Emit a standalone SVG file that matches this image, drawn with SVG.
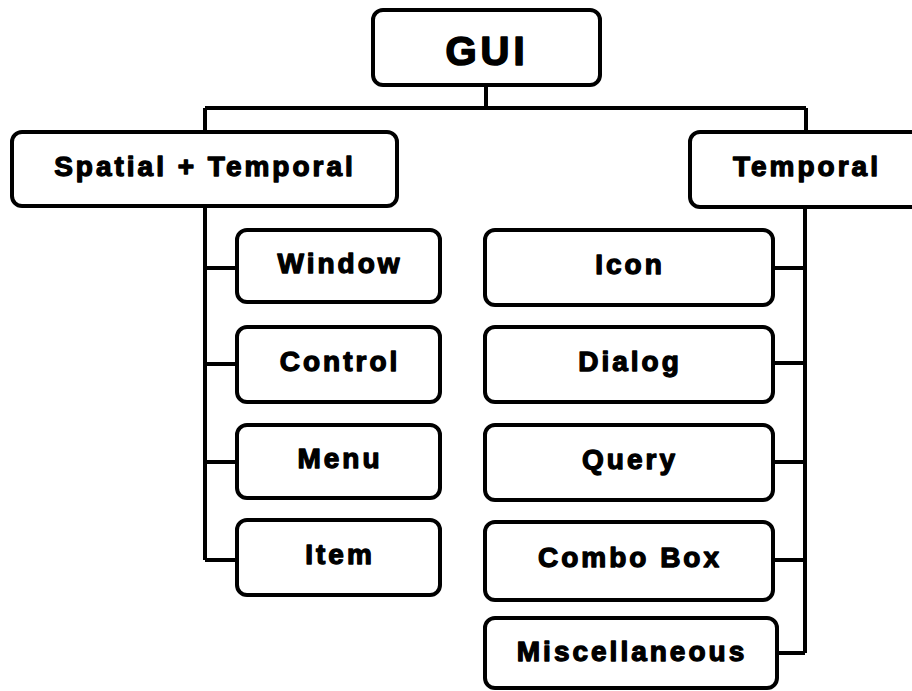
<svg xmlns="http://www.w3.org/2000/svg" width="912" height="691" viewBox="0 0 912 691">
<style>
.box{fill:#fff;stroke:#000;stroke-width:4}
.lbl{font-family:"Liberation Sans",Arial,sans-serif;font-weight:bold;font-size:28px;letter-spacing:3px;fill:#000;stroke:#000;stroke-width:1.3;stroke-linejoin:round;text-anchor:middle}
.big{font-size:40px;letter-spacing:4px;stroke-width:1.6}
.conn{fill:none;stroke:#000;stroke-width:4}
</style>
<rect width="912" height="691" fill="#fff"/>
<g id="connectors">
<path class="conn" d="M486 85V108M205 108H806M205 108V132M806 108V132"/>
<path class="conn" d="M205 206V560M205 268H237M205 364H237M205 462H237M205 560H237"/>
<path class="conn" d="M805 207V653M773 268H805M773 363H805M773 462H805M773 560H805M777 653H805"/>
</g>
<g id="gui"><rect class="box" x="373" y="10" width="227" height="75" rx="10"/><text class="lbl big" x="487" y="65">GUI</text></g>
<g id="spatial"><rect class="box" x="12" y="132" width="385" height="74" rx="10"/><text class="lbl" x="205" y="176">Spatial + Temporal</text></g>
<g id="temporal"><rect class="box" x="690" y="132" width="240" height="75" rx="10"/><text class="lbl" x="807" y="176">Temporal</text></g>
<g id="window"><rect class="box" x="237" y="230" width="203" height="72" rx="10"/><text class="lbl" x="340" y="273">Window</text></g>
<g id="control"><rect class="box" x="237" y="327" width="203" height="75" rx="10"/><text class="lbl" x="340" y="371">Control</text></g>
<g id="menu"><rect class="box" x="237" y="425" width="203" height="73" rx="10"/><text class="lbl" x="340" y="468">Menu</text></g>
<g id="item"><rect class="box" x="237" y="520" width="203" height="75" rx="10"/><text class="lbl" x="340" y="564">Item</text></g>
<g id="icon"><rect class="box" x="485" y="230" width="288" height="75" rx="10"/><text class="lbl" x="630" y="274">Icon</text></g>
<g id="dialog"><rect class="box" x="485" y="327" width="288" height="75" rx="10"/><text class="lbl" x="630" y="371">Dialog</text></g>
<g id="query"><rect class="box" x="485" y="425" width="288" height="75" rx="10"/><text class="lbl" x="630" y="469">Query</text></g>
<g id="combo"><rect class="box" x="485" y="522" width="288" height="78" rx="10"/><text class="lbl" x="630" y="567">Combo Box</text></g>
<g id="misc"><rect class="box" x="485" y="618" width="292" height="70" rx="10"/><text class="lbl" x="632" y="661">Miscellaneous</text></g>
</svg>
